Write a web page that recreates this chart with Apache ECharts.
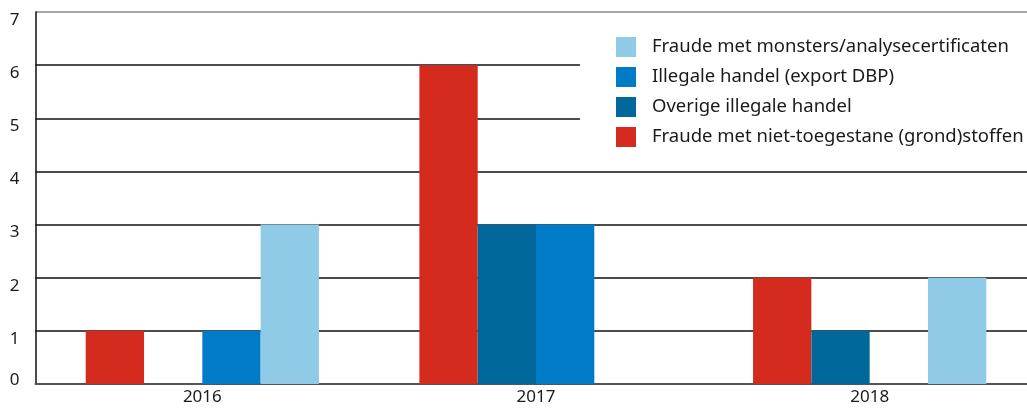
<!DOCTYPE html>
<html><head><meta charset="utf-8">
<script src="https://cdn.jsdelivr.net/npm/echarts@6/dist/echarts.min.js"></script>
<style>html,body{margin:0;padding:0;background:#fff;overflow:hidden}#c{width:1027px;height:408px}</style>
</head><body><div id="c"></div>
<script>
const categories = ['2016', '2017', '2018'];
const seriesNames = ['Fraude met niet-toegestane (grond)stoffen', 'Overige illegale handel', 'Illegale handel (export DBP)', 'Fraude met monsters/analysecertificaten'];
const fraudeStoffen = [1, 6, 2];
const overigeHandel = [0, 3, 1];
const exportDBP = [1, 3, 0];
const fraudeMonsters = [3, 0, 2];
const yTicks = [0, 1, 2, 3, 4, 5, 6, 7];
const colors = ['#d52b1e', '#01689b', '#007bc7', '#8fcae7'];
const legendOrder = [seriesNames[3], seriesNames[2], seriesNames[1], seriesNames[0]];
const values = [fraudeStoffen, overigeHandel, exportDBP, fraudeMonsters];

const font = 'Noto Sans';
const chart = echarts.init(document.getElementById('c'));
chart.setOption({
  animation: false,
  textStyle: { fontFamily: font },
  grid: { left: 35.5, width: 1001, top: 12, height: 372, containLabel: false, outerBoundsMode: 'none' },
  legend: {
    data: legendOrder,
    orient: 'vertical',
    left: 580, top: 27,
    backgroundColor: '#fff',
    padding: [10, 20, 10, 36],
    itemWidth: 20, itemHeight: 20, itemGap: 10,
    icon: 'rect',
    textStyle: { fontSize: 18.5, color: '#1a1a1a', fontFamily: font, padding: [0, 0, 0, 11] }
  },
  xAxis: {
    type: 'category', data: categories,
    axisLine: { lineStyle: { color: '#555', width: 2 } },
    axisTick: { show: false },
    axisLabel: { fontSize: 17, color: '#1a1a1a', margin: 5 }
  },
  yAxis: {
    type: 'value', min: 0, max: yTicks[yTicks.length - 1], interval: 1,
    axisLine: { show: true, lineStyle: { color: '#111', width: 1.5 } },
    axisTick: { show: false },
    axisLabel: {
      fontSize: 17, color: '#1a1a1a', margin: 16,
      formatter: v => v === 0 ? '{z|0}' : '{n|' + v + '}',
      rich: {
        n: { fontSize: 17, color: '#1a1a1a', fontFamily: font, padding: [16, 0, 0, 0] },
        z: { fontSize: 17, color: '#1a1a1a', fontFamily: font, padding: [0, 0, 7, 0] }
      }
    },
    splitLine: { lineStyle: { color: ['#111', '#111', '#111', '#111', '#111', '#111', '#111', '#888'], width: 1.5 } }
  },
  series: seriesNames.map((n, i) => ({
    name: n, type: 'bar', data: values[i],
    itemStyle: { color: colors[i] },
    barGap: '0%', barCategoryGap: '30.1%'
  }))
});
</script></body></html>
